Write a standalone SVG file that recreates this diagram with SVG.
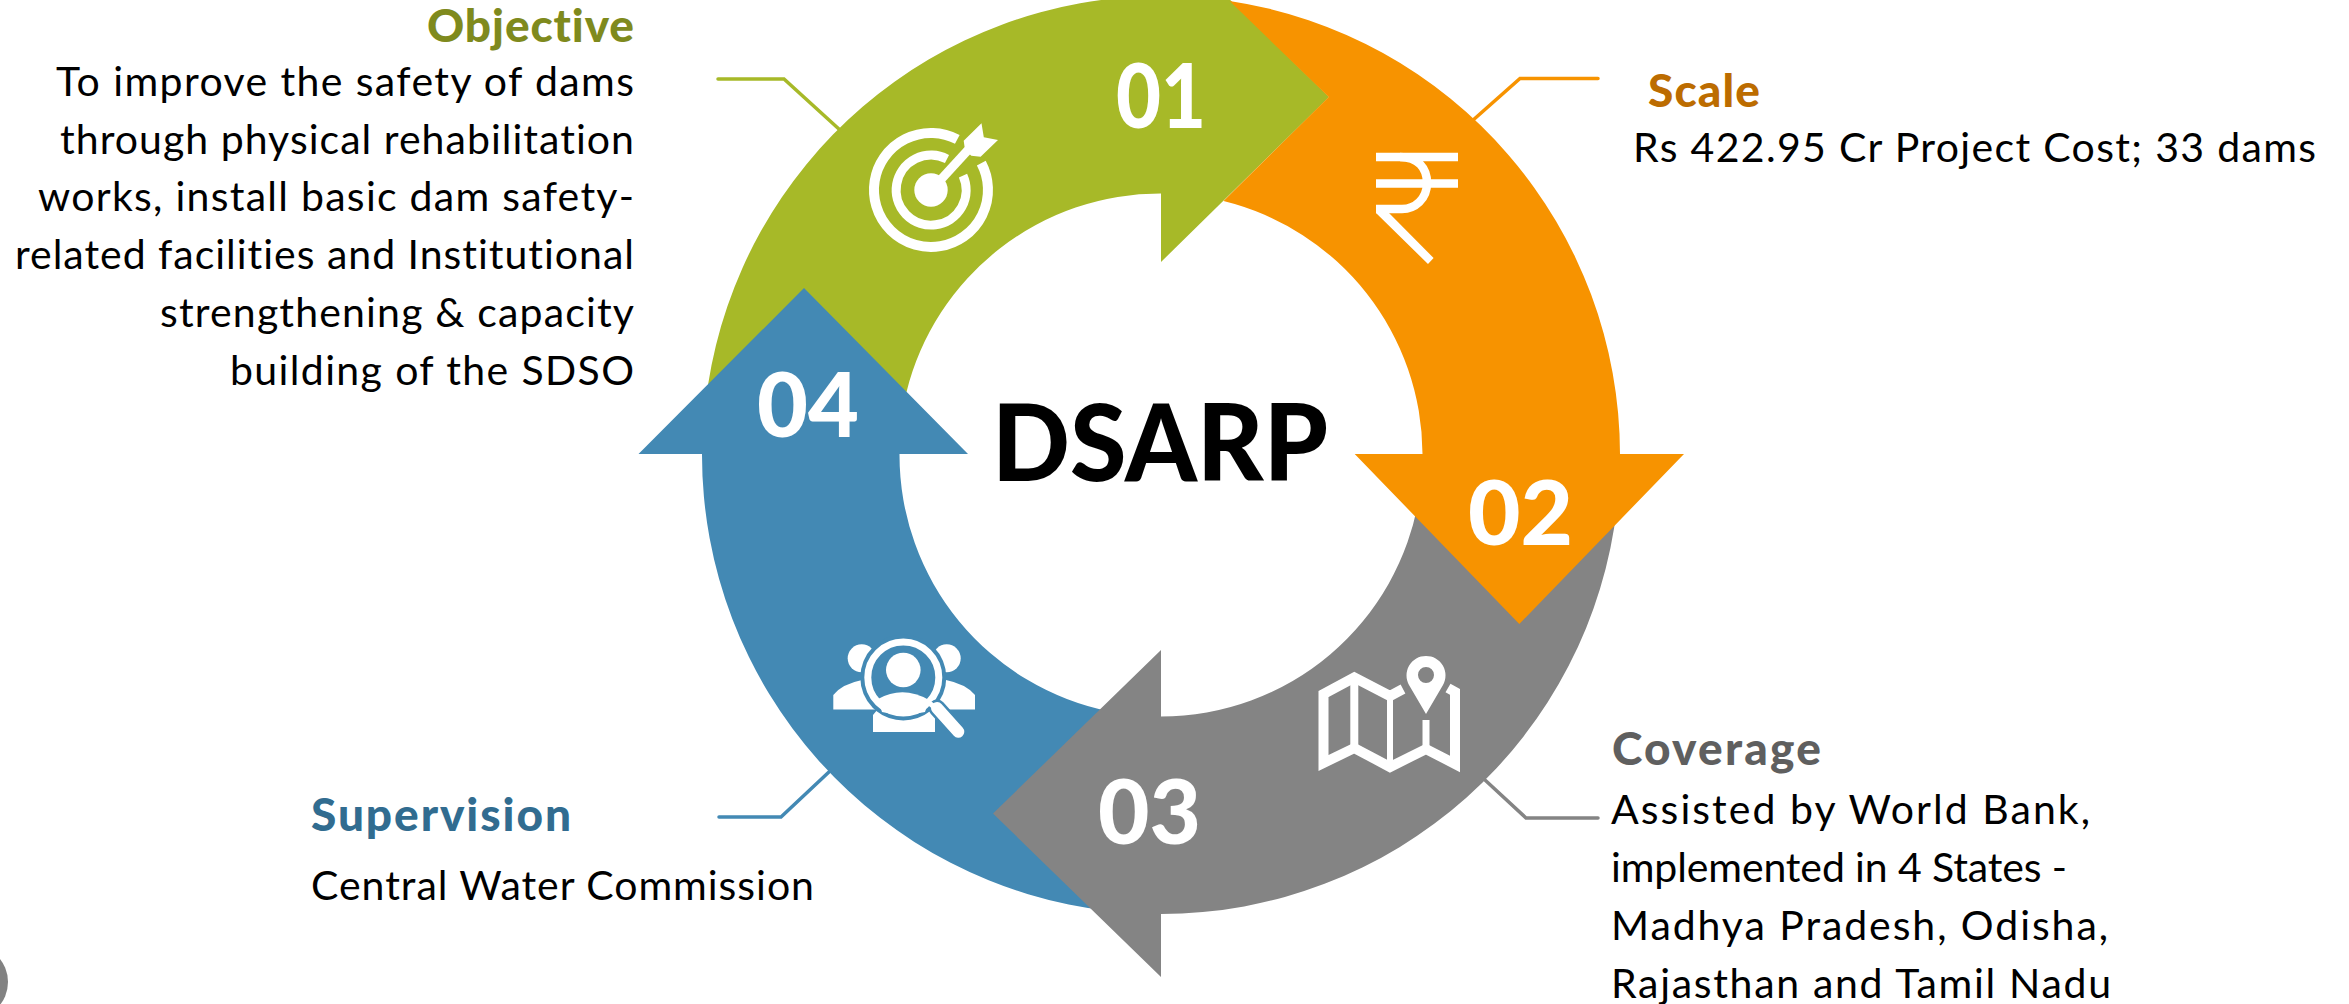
<svg xmlns="http://www.w3.org/2000/svg" width="2349" height="1004" viewBox="0 0 2349 1004">
<style>
text{font-family:"Lato","Noto Sans",sans-serif;font-variant-ligatures:none}
.b{font-size:41px;fill:#000}
.h{font-size:46px;font-weight:900}
.n{font-size:90px;font-weight:900;fill:#fff}
.t{font-size:106px;font-weight:900;fill:#000}
.l{fill:none;stroke-width:3.5;stroke-linecap:round;stroke-linejoin:miter}
.w{fill:#fff}
.s{fill:none;stroke:#fff}
</style>
<rect width="2349" height="1004" fill="#fff"/>
<circle id="corner-mark" cx="-29" cy="982" r="37" fill="#828282"/>
<g id="connectors">
<path class="l" stroke="#A7B928" d="M718,79H784L840,130"/>
<path class="l" stroke="#F79300" d="M1598,78.500H1520L1472,121"/>
<path class="l" stroke="#848484" d="M1598,818H1526L1485,780"/>
<path class="l" stroke="#4389B4" d="M719,817H781L830,771"/>
</g>
<g id="node-01">
<path fill="#A7B928" d="M708,385A459,459 0 0 1 1161,-4L1161,-68L1329,97L1161,262L1161,193.500A261.500,261.500 0 0 0 906.500,392Z"/>
<text class="n" x="1116" y="128" textLength="90" lengthAdjust="spacingAndGlyphs">01</text>
<g id="icon-target">
<path class="s" stroke-width="10" d="M957.300,139.400A57,57 0 1 0 981.300,163.200"/>
<path class="s" stroke-width="9" d="M947,158.900A35,35 0 1 0 963,175.600"/>
<circle class="w" cx="931" cy="190" r="16.700"/>
<path class="s" stroke-width="9" d="M935,186L968,150"/>
<path class="w" d="M963.700,140.700L981.500,123.300L983.800,137.300L998,140L980.600,156.700L971.300,155.700L965,150Z"/>
</g>
</g>
<g id="node-04">
<path fill="#4389B4" d="M702,455A459,459 0 0 0 1110,911L1110,711.500A261.500,261.500 0 0 1 899.500,455L899.500,454L968,454L804,288L638.500,454L702,454Z"/>
<text class="n" x="757" y="437" textLength="102" lengthAdjust="spacingAndGlyphs">04</text>
<g id="icon-supervision">
<circle class="w" cx="861.700" cy="658.300" r="14"/>
<circle class="w" cx="946.700" cy="658.300" r="14"/>
<path class="w" d="M833.300,709.500V695Q842,684 862,680H880V709.500Z"/>
<path class="w" d="M975,709.500V695Q966,684 946,680H928V709.500Z"/>
<circle cx="903.300" cy="677.500" r="43" fill="#4389B4"/>
<path class="w" d="M873,732V715L876.300,711A43,43 0 0 0 930.300,711L935,716V732Z"/>
<path class="w" d="M878,699Q903,685 929,700L925,712L903,716L882,712Z"/>
<circle class="w" cx="903.300" cy="670" r="17.300"/>
<circle class="s" cx="903.300" cy="677.500" r="35.500" stroke-width="7"/>
<path fill="none" stroke="#4389B4" stroke-width="17" stroke-linecap="round" d="M937,708L958.300,731.700"/>
<path class="s" stroke-width="12" stroke-linecap="round" d="M937,708L958.300,731.700"/>
<path class="s" stroke-width="5" d="M928,702L938,710"/>
</g>
</g>
<g id="node-03">
<path fill="#848484" d="M1161,650L993,813.500L1161,977L1161,914A459,459 0 0 0 1617,507L1419,497.600A261.500,261.500 0 0 1 1161,716.500Z"/>
<text class="n" x="1098" y="844" textLength="103" lengthAdjust="spacingAndGlyphs">03</text>
<g id="icon-map">
<path class="s" stroke-width="10" stroke-linejoin="miter" d="M1403,689L1390,696L1354.300,677.500L1323.500,694V763L1354.300,748L1390,767L1426,749L1455,764V692L1448,688"/>
<path class="s" stroke-width="8" d="M1354.300,680V750"/>
<path class="s" stroke-width="6" d="M1390,696V762"/>
<path class="s" stroke-width="7" d="M1426,720V750"/>
<path class="w" fill-rule="evenodd" d="M1426,714L1409,685A19.500,19.500 0 1 1 1443,685ZM1434,675A8,8 0 1 0 1418,675A8,8 0 1 0 1434,675Z"/>
</g>
</g>
<g id="node-02">
<path fill="#F79300" d="M1229.600,1A459,459 0 0 1 1620,454L1684,454L1519.300,624L1354.700,454L1422.500,454A261.500,261.500 0 0 0 1223.500,201L1328.700,97Z"/>
<text class="n" x="1468" y="545" textLength="105" lengthAdjust="spacingAndGlyphs">02</text>
<g id="icon-rupee">
<path class="s" stroke-width="8.500" d="M1376,157H1458M1376,183.500H1458"/>
<path class="s" stroke-width="8.500" d="M1400,157C1418,157 1427,168 1427,183C1427,199 1415,209 1402,209H1376"/>
<path class="w" d="M1376,205V213L1428,264L1433.600,258L1389,213L1389,205Z"/>
</g>
</g>
<g id="node-center">
<text class="t" x="992" y="481" textLength="336" lengthAdjust="spacingAndGlyphs">DSARP</text>
</g>
<g id="objective-text">
<text class="h" fill="#7F8A1D" x="427" y="42" textLength="207">Objective</text>
<text class="b" x="56" y="96" textLength="578">To improve the safety of dams</text>
<text class="b" x="60" y="153.500" textLength="574">through physical rehabilitation</text>
<text class="b" x="38" y="211" textLength="596">works, install basic dam safety-</text>
<text class="b" x="15" y="268.500" textLength="619">related facilities and Institutional</text>
<text class="b" x="160" y="326.500" textLength="474">strengthening &amp; capacity</text>
<text class="b" x="230" y="384.500" textLength="404">building of the SDSO</text>
</g>
<g id="scale-text">
<text class="h" fill="#BC6C00" x="1648" y="107" textLength="112">Scale</text>
<text class="b" x="1633" y="162" textLength="683">Rs 422.95 Cr Project Cost; 33 dams</text>
</g>
<g id="coverage-text">
<text class="h" fill="#5F5F5F" x="1612" y="765" textLength="209">Coverage</text>
<text class="b" x="1611" y="824" textLength="479">Assisted by World Bank,</text>
<text class="b" x="1611" y="882" textLength="456">implemented in 4 States -</text>
<text class="b" x="1611" y="940" textLength="497">Madhya Pradesh, Odisha,</text>
<text class="b" x="1611" y="998" textLength="500">Rajasthan and Tamil Nadu</text>
</g>
<g id="supervision-text">
<text class="h" fill="#316C90" x="311" y="831" textLength="260">Supervision</text>
<text class="b" x="311" y="900" textLength="503">Central Water Commission</text>
</g>
</svg>
